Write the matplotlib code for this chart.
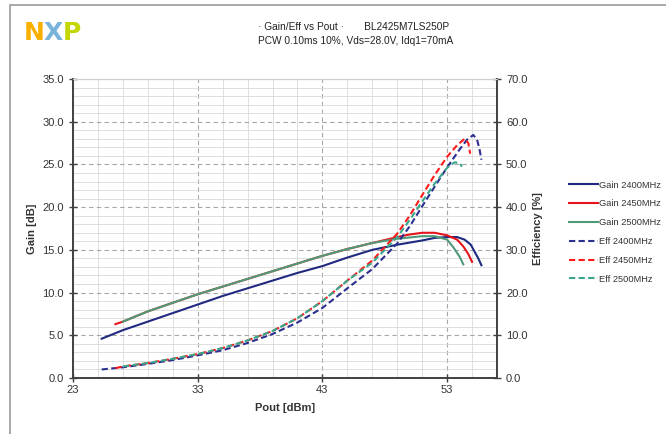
import numpy as np
import matplotlib
matplotlib.use("Agg")
import matplotlib.pyplot as plt
from matplotlib.lines import Line2D
from matplotlib.patches import Rectangle

plt.rcParams["font.family"] = ["Liberation Sans", "DejaVu Sans"]

# ----------------------------------------------------------------------
# Data
# ----------------------------------------------------------------------
pout_gain_2400 = [25.3, 27, 29, 31, 33, 35, 37, 39, 41, 43, 45, 47, 49, 51, 52, 53,
                  53.8, 54.4, 54.9, 55.2, 55.5, 55.75]
gain_2400 = [4.6, 5.6, 6.6, 7.6, 8.6, 9.6, 10.5, 11.4, 12.3, 13.1, 14.1, 15.0, 15.6,
             16.1, 16.4, 16.5, 16.5, 16.2, 15.6, 14.8, 14.0, 13.2]

pout_gain_2450 = [26.4, 27, 29, 31, 33, 35, 37, 39, 41, 43, 45, 47, 49, 50, 51, 52,
                  53, 53.8, 54.3, 54.7, 55.0]
gain_2450 = [6.3, 6.6, 7.8, 8.8, 9.8, 10.7, 11.6, 12.5, 13.4, 14.3, 15.1, 15.8, 16.5,
             16.8, 17.0, 17.0, 16.7, 16.2, 15.4, 14.5, 13.6]

pout_gain_2500 = [27, 29, 31, 33, 35, 37, 39, 41, 43, 45, 47, 49, 51, 52, 53, 53.5,
                  54.0, 54.3]
gain_2500 = [6.6, 7.8, 8.8, 9.8, 10.7, 11.6, 12.5, 13.4, 14.3, 15.1, 15.8, 16.3, 16.6,
             16.6, 16.2, 15.3, 14.2, 13.3]

pout_eff_2400 = [25.3, 27, 29, 31, 33, 35, 37, 39, 41, 43, 45, 47, 49, 50, 51, 52, 53,
                 54, 54.6, 55.1, 55.4, 55.6, 55.75]
eff_2400 = [2.0, 2.5, 3.3, 4.2, 5.3, 6.5, 8.2, 10.3, 13.0, 16.4, 21.0, 25.5, 31.5, 35.5,
            40.2, 44.8, 49.3, 53.5, 55.8, 56.9, 55.8, 53.5, 51.1]

pout_eff_2450 = [26.4, 27, 29, 31, 33, 35, 37, 39, 41, 43, 45, 47, 49, 50, 51, 52, 53,
                 53.8, 54.4, 54.7, 54.85]
eff_2450 = [2.3, 2.7, 3.5, 4.5, 5.6, 7.0, 8.8, 11.0, 14.0, 18.0, 22.8, 27.5, 33.8, 38.0,
            42.8, 47.5, 51.8, 54.5, 56.0, 55.0, 52.5]

pout_eff_2500 = [27, 29, 31, 33, 35, 37, 39, 41, 43, 45, 47, 49, 50, 51, 52, 53, 53.6,
                 54.0, 54.2]
eff_2500 = [2.7, 3.5, 4.5, 5.6, 7.0, 8.8, 11.0, 14.0, 18.0, 22.8, 27.0, 33.0, 37.0,
            41.3, 45.5, 49.2, 50.5, 50.3, 49.5]

x_ticks = [23, 33, 43, 53]
gain_ticks = [0, 5, 10, 15, 20, 25, 30, 35]
eff_ticks = [0, 10, 20, 30, 40, 50, 60, 70]

C_BLUE = "#1f2a80"
C_RED = "#e8141c"
C_GREEN = "#4f9a78"
C_BLUE_D = "#2b2f8f"
C_RED_D = "#ff1a1a"
C_GREEN_D = "#3aa68c"
DASH = (0, (3, 1.6))
TXT = "#333333"

W, H = 666, 434
fig = plt.figure(figsize=(W / 100, H / 100), dpi=100)

# outer frame (only the top/left edges are visible in the reference)
fig.patches.append(Rectangle((10 / W, -0.1), 1.2, 1.1 - 5 / H, transform=fig.transFigure,
                             fill=False, edgecolor="#9a9a9a", lw=1.2))

# NXP logo as coloured letters
fig.text(24 / W, 1 - 33 / H, "N", color="#f9b000", fontsize=18, fontweight="bold",
         va="center", ha="left", family="DejaVu Sans")
fig.text(44 / W, 1 - 33 / H, "X", color="#79b3d9", fontsize=18, fontweight="bold",
         va="center", ha="left", family="DejaVu Sans")
fig.text(63 / W, 1 - 33 / H, "P", color="#c4d600", fontsize=18, fontweight="bold",
         va="center", ha="left", family="DejaVu Sans")

fig.text(258 / W, 1 - 27 / H, "· Gain/Eff vs Pout ·       BL2425M7LS250P",
         fontsize=7.3, color="#222222", va="center", ha="left")
fig.text(258 / W, 1 - 41 / H, "PCW 0.10ms 10%, Vds=28.0V, Idq1=70mA",
         fontsize=7.3, color="#222222", va="center", ha="left")

ax = fig.add_axes([73 / W, 1 - 378 / H, (497 - 73) / W, (378 - 79) / H])
ax2 = ax.twinx()

ax.set_xlim(23, 57)
ax.set_ylim(0, 35)
ax2.set_ylim(0, 70)

# grid: light minor lines, dashed majors
ax.set_xticks(x_ticks)
ax.set_xticks(np.arange(25, 57, 2), minor=True)
ax.set_yticks(gain_ticks)
ax.set_yticks(np.arange(0, 35, 1), minor=True)
ax.grid(which="minor", color="#d9d9d9", lw=0.6, ls="-")
ax.grid(which="major", color="#a6a6a6", lw=0.8, ls=(0, (4, 3)))
ax.set_axisbelow(True)
ax2.set_yticks(eff_ticks)

ax.set_xticklabels([str(v) for v in x_ticks])
ax.set_yticklabels([f"{v:.1f}" for v in gain_ticks])
ax2.set_yticklabels([f"{v:.1f}" for v in eff_ticks])

for a in (ax, ax2):
    a.tick_params(which="major", direction="inout", length=6, width=1, color="#404040",
                  labelsize=8, labelcolor=TXT)
    a.tick_params(which="minor", length=0)
    for side in ("left", "right", "bottom"):
        a.spines[side].set_color("#404040")
        a.spines[side].set_linewidth(1.2)
    a.spines["top"].set_color("#cfcfcf")
    a.spines["top"].set_linewidth(0.8)

ax.tick_params(axis="x", pad=2)
ax.set_xlabel("Pout [dBm]", fontsize=8, fontweight="bold", color=TXT, labelpad=6)
ax.set_ylabel("Gain [dB]", fontsize=8, fontweight="bold", color=TXT, labelpad=4)
ax2.set_ylabel("Efficiency [%]", fontsize=8, fontweight="bold", color=TXT, labelpad=4)

lw = 1.5
ax.plot(pout_gain_2400, gain_2400, color=C_BLUE, lw=lw)
ax.plot(pout_gain_2450, gain_2450, color=C_RED, lw=lw)
ax.plot(pout_gain_2500, gain_2500, color=C_GREEN, lw=lw)
ax2.plot(pout_eff_2400, eff_2400, color=C_BLUE_D, lw=lw, ls=DASH)
ax2.plot(pout_eff_2450, eff_2450, color=C_RED_D, lw=lw, ls=DASH)
ax2.plot(pout_eff_2500, eff_2500, color=C_GREEN_D, lw=lw, ls=DASH)

handles = [Line2D([], [], color=C_BLUE, lw=lw),
           Line2D([], [], color=C_RED, lw=lw),
           Line2D([], [], color=C_GREEN, lw=lw),
           Line2D([], [], color=C_BLUE_D, lw=lw, ls=DASH),
           Line2D([], [], color=C_RED_D, lw=lw, ls=DASH),
           Line2D([], [], color=C_GREEN_D, lw=lw, ls=DASH)]
labels = ["Gain 2400MHz", "Gain 2450MHz", "Gain 2500MHz",
          "Eff 2400MHz", "Eff 2450MHz", "Eff 2500MHz"]
leg = fig.legend(handles, labels, loc="upper left",
                 bbox_to_anchor=(565 / W, 1 - 177 / H), frameon=False,
                 fontsize=6.7, handlelength=3.1, handletextpad=0.2,
                 labelspacing=1.05, borderaxespad=0)
for t in leg.get_texts():
    t.set_color(TXT)

fig.savefig("out.png", dpi=100)
